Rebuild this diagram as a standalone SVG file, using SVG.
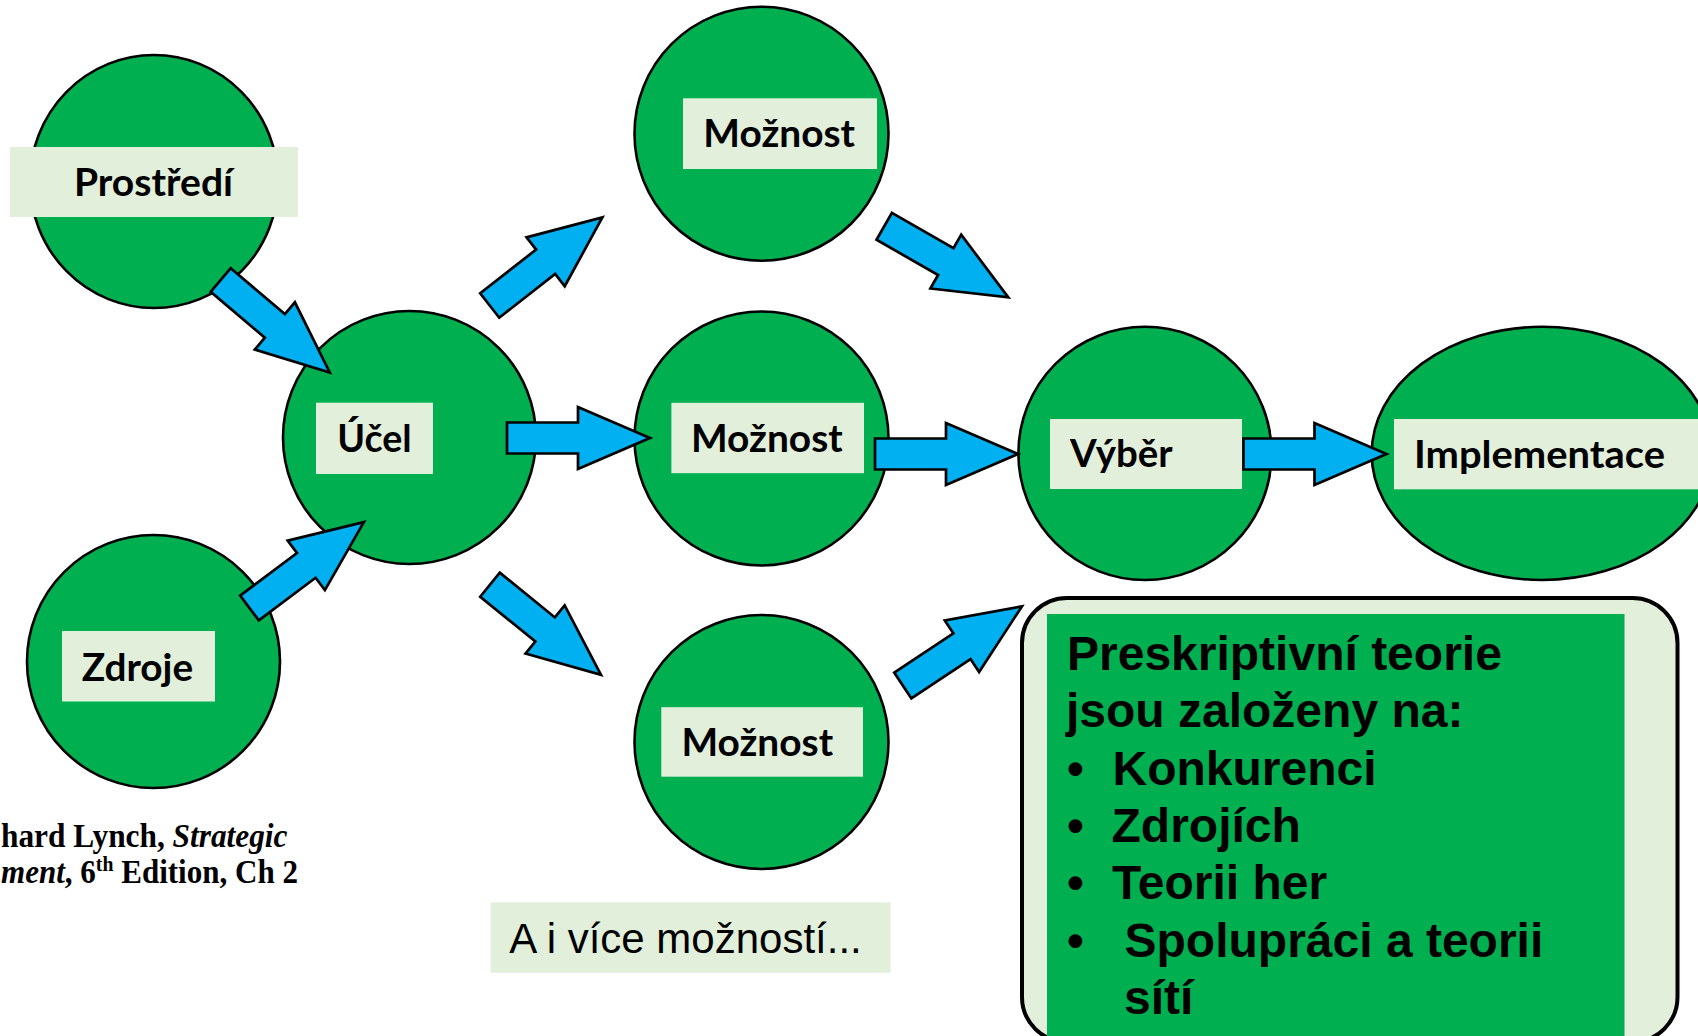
<svg xmlns="http://www.w3.org/2000/svg" xmlns:xlink="http://www.w3.org/1999/xlink" width="1698" height="1036" viewBox="0 0 1698 1036">
<style>
.node{fill:#00B050;stroke:#000;stroke-width:2.6}
.lbl{fill:#E2EFDA}
.lt{font-family:Lato,"Open Sans","Liberation Sans",sans-serif;font-weight:700;font-size:38.5px;fill:#000}
.arr{fill:#00B0F0;stroke:#000;stroke-width:2.7;stroke-linejoin:miter}
.ct{font-family:"Liberation Sans",Arial,sans-serif;font-weight:700;font-size:48px;fill:#000}
.cit{font-family:"Liberation Serif","Times New Roman",serif;font-weight:700;font-size:33px;fill:#000}
.note{font-family:"Liberation Sans",Arial,sans-serif;font-size:42px;fill:#000}
</style>
<defs>
<polygon id="arrow" points="0,-15.5 71,-15.5 71,-31 143,0 71,31 71,15.5 0,15.5"/>
</defs>
<rect width="1698" height="1036" fill="#fff"/>

<g id="n-prostredi">
<ellipse class="node" cx="154" cy="181.5" rx="124" ry="126.5"/>
<rect class="lbl" x="10" y="147" width="288" height="70"/>
<text class="lt" x="74" y="196" textLength="159" lengthAdjust="spacingAndGlyphs">Prostředí</text>
</g>

<g id="n-zdroje">
<circle class="node" cx="153.5" cy="661.5" r="126.5"/>
<rect class="lbl" x="62" y="631" width="153" height="70.5"/>
<text class="lt" x="81.7" y="681" textLength="111.5" lengthAdjust="spacingAndGlyphs">Zdroje</text>
</g>

<g id="n-ucel">
<circle class="node" cx="409.5" cy="437.5" r="126.5"/>
<rect class="lbl" x="316" y="402.7" width="117" height="71.3"/>
<text class="lt" x="337.3" y="451.7" textLength="74.4" lengthAdjust="spacingAndGlyphs">Účel</text>
</g>

<g id="n-moznost-1">
<circle class="node" cx="761.5" cy="133.7" r="127"/>
<rect class="lbl" x="683" y="98.3" width="194" height="70.7"/>
<text class="lt" x="703.3" y="147.3" textLength="151.7" lengthAdjust="spacingAndGlyphs">Možnost</text>
</g>

<g id="n-moznost-2">
<circle class="node" cx="761.5" cy="438.5" r="127"/>
<rect class="lbl" x="671.4" y="402.8" width="192.6" height="70.4"/>
<text class="lt" x="691" y="452" textLength="151.7" lengthAdjust="spacingAndGlyphs">Možnost</text>
</g>

<g id="n-moznost-3">
<circle class="node" cx="761.5" cy="742" r="127"/>
<rect class="lbl" x="661.3" y="707.2" width="201.7" height="69.5"/>
<text class="lt" x="681.4" y="755.5" textLength="151.7" lengthAdjust="spacingAndGlyphs">Možnost</text>
</g>

<g id="n-vyber">
<circle class="node" cx="1145" cy="453.4" r="126.6"/>
<rect class="lbl" x="1050" y="419" width="192" height="70"/>
<text class="lt" x="1070" y="466.7" textLength="102.7" lengthAdjust="spacingAndGlyphs">Výběr</text>
</g>

<g id="n-implementace">
<ellipse class="node" cx="1542" cy="453.4" rx="170.3" ry="126.6"/>
<rect class="lbl" x="1394" y="419" width="310" height="70.3"/>
<text class="lt" x="1414" y="468.3" textLength="251" lengthAdjust="spacingAndGlyphs">Implementace</text>
</g>

<g id="connectors">
<use xlink:href="#arrow" class="arr" transform="translate(220.7,280) rotate(40.3)"/>
<use xlink:href="#arrow" class="arr" transform="translate(249.5,608) rotate(-36.9)"/>
<use xlink:href="#arrow" class="arr" transform="translate(489.7,305.5) rotate(-38)"/>
<use xlink:href="#arrow" class="arr" transform="translate(507,438)"/>
<use xlink:href="#arrow" class="arr" transform="translate(490,584.7) rotate(39.1)"/>
<use xlink:href="#arrow" class="arr" transform="translate(884.2,226.3) rotate(29.8)"/>
<use xlink:href="#arrow" class="arr" transform="translate(875,454)"/>
<use xlink:href="#arrow" class="arr" transform="translate(1243.5,454)"/>
<use xlink:href="#arrow" class="arr" transform="translate(902.8,685.5) rotate(-33.6)"/>
</g>

<g id="callout">
<rect x="1022" y="598" width="655.5" height="444" rx="45" ry="45" fill="#E2EFDA" stroke="#000" stroke-width="4"/>
<rect x="1047" y="614" width="577.5" height="430" fill="#00B050"/>
<text class="ct" x="1067" y="670">Preskriptivní teorie</text>
<text class="ct" x="1066" y="727">jsou založeny na:</text>
<text class="ct" x="1067" y="785">•</text>
<text class="ct" x="1112.5" y="785">Konkurenci</text>
<text class="ct" x="1067" y="842">•</text>
<text class="ct" x="1111.5" y="842">Zdrojích</text>
<text class="ct" x="1067" y="899">•</text>
<text class="ct" x="1112" y="899">Teorii her</text>
<text class="ct" x="1067" y="956.5">•</text>
<text class="ct" x="1124.5" y="956.5">Spolupráci a teorii</text>
<text class="ct" x="1124" y="1013.5">sítí</text>
</g>

<g id="note">
<rect x="490.5" y="902.3" width="400" height="70.4" fill="#E2EFDA"/>
<text class="note" x="509.3" y="953.3">A i více možností...</text>
</g>

<g id="citation">
<text class="cit" x="1" y="846.5" textLength="286.5" lengthAdjust="spacingAndGlyphs">hard Lynch, <tspan font-style="italic">Strategic</tspan></text>
<text class="cit" x="1" y="883" textLength="297" lengthAdjust="spacingAndGlyphs"><tspan font-style="italic">ment</tspan>, 6<tspan font-size="21" dy="-12">th</tspan><tspan dy="12"> Edition, Ch 2</tspan></text>
</g>
</svg>
